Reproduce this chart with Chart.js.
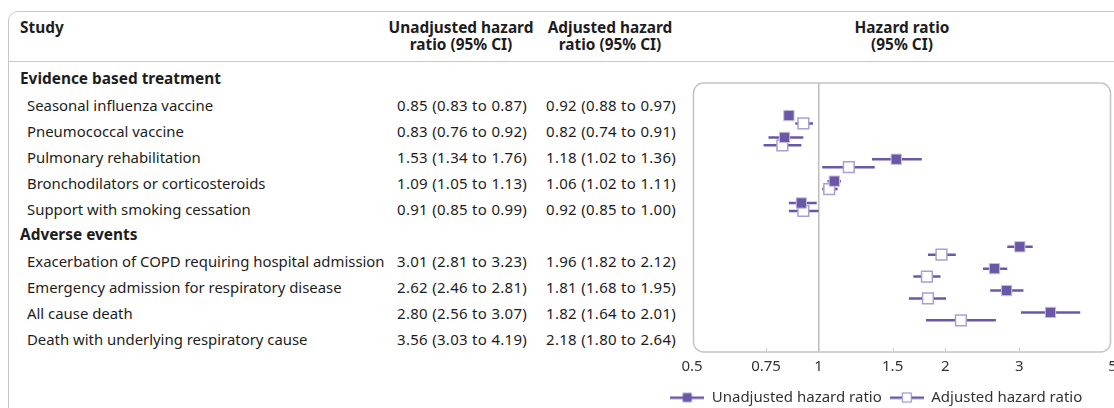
<!DOCTYPE html>
<html>
<head>
<meta charset="utf-8">
<script src="https://cdn.jsdelivr.net/npm/chart.js@4.4.0/dist/chart.umd.min.js"></script>
<style>
  body { margin:0; width:1114px; height:408px; overflow:hidden; background:#fff; font-family:"Noto Sans", sans-serif; color:#1d1d1d; position:relative; }
  .frame { position:absolute; left:8px; top:11px; width:1200px; height:500px; border:1.5px solid #c8c8c8; border-radius:10px 0 0 0; box-sizing:border-box; }
  .sep { position:absolute; left:8px; top:61px; width:1106px; border-top:1.5px solid #c8c8c8; }
  .txt { position:absolute; white-space:nowrap; font-size:14.9px; }
  .head { font-weight:bold; font-size:15.4px; line-height:17px; top:19px; }
  .row { height:26px; line-height:26px; }
  .num { font-size:15px; letter-spacing:0.3px; }
  .bold { font-weight:bold; font-size:15.4px; }
  #wrap { position:absolute; left:640px; top:0; width:474px; height:415px; }
</style>
</head>
<body>
<div class="frame"></div>
<div class="sep"></div>
<div id="table"></div>
<div id="wrap"><canvas id="forest"></canvas></div>
<script>
var groups = ['Evidence based treatment', 'Adverse events'];
var studies = [
  'Seasonal influenza vaccine',
  'Pneumococcal vaccine',
  'Pulmonary rehabilitation',
  'Bronchodilators or corticosteroids',
  'Support with smoking cessation',
  'Exacerbation of COPD requiring hospital admission',
  'Emergency admission for respiratory disease',
  'All cause death',
  'Death with underlying respiratory cause'
];
var studyGroup = [0, 0, 0, 0, 0, 1, 1, 1, 1];

var unadjHr   = [0.85, 0.83, 1.53, 1.09, 0.91, 3.01, 2.62, 2.80, 3.56];
var unadjLow  = [0.83, 0.76, 1.34, 1.05, 0.85, 2.81, 2.46, 2.56, 3.03];
var unadjHigh = [0.87, 0.92, 1.76, 1.13, 0.99, 3.23, 2.81, 3.07, 4.19];

var adjHr   = [0.92, 0.82, 1.18, 1.06, 0.92, 1.96, 1.81, 1.82, 2.18];
var adjLow  = [0.88, 0.74, 1.02, 1.02, 0.85, 1.82, 1.68, 1.64, 1.80];
var adjHigh = [0.97, 0.91, 1.36, 1.11, 1.00, 2.12, 1.95, 2.01, 2.64];

var tickValues = [0.5, 0.75, 1, 1.5, 2, 3, 5];
var tickLabels = ['0.5', '0.75', '1', '1.5', '2', '3', '5'];

var purple = '#6a58a7';
var fontFamily = 'Noto Sans';

// row layout: group heading, then its studies
var rows = [];
var rowPos = [];
var pos = 0;
groups.forEach(function(g, gi){
  rows.push({ text: g, group: true, pos: pos });
  pos++;
  studies.forEach(function(s, i){
    if (studyGroup[i] === gi) {
      rowPos[i] = pos;
      rows.push({ text: s, group: false, pos: pos, idx: i });
      pos++;
    }
  });
});

function fmt(hr, lo, hi){
  return hr.toFixed(2) + ' (' + lo.toFixed(2) + ' to ' + hi.toFixed(2) + ')';
}

var table = document.getElementById('table');
function addText(html, cls, left, top, width, align){
  var d = document.createElement('div');
  d.className = 'txt ' + cls;
  d.innerHTML = html;
  d.style.left = left + 'px';
  if (top !== null) d.style.top = top + 'px';
  if (width) { d.style.width = width + 'px'; d.style.textAlign = align; }
  table.appendChild(d);
}

addText('Study', 'head', 20, 19);
addText('Unadjusted hazard<br>ratio (95% CI)', 'head', 361, 19, 200, 'center');
addText('Adjusted hazard<br>ratio (95% CI)', 'head', 510, 19, 200, 'center');
addText('Hazard ratio<br>(95% CI)', 'head', 802, 19, 200, 'center');

rows.forEach(function(r){
  var top = 65.5 + 26 * r.pos;
  if (r.group) {
    addText(r.text, 'row bold', 20, top);
  } else {
    addText(r.text, 'row', 27, top);
    addText(fmt(unadjHr[r.idx], unadjLow[r.idx], unadjHigh[r.idx]), 'row num', 397, top);
    addText(fmt(adjHr[r.idx], adjLow[r.idx], adjHigh[r.idx]), 'row num', 546, top);
  }
});

// legend symbols: line with square in the middle
function legendSymbol(filled){
  var c = document.createElement('canvas');
  c.width = 34; c.height = 12;
  var g = c.getContext('2d');
  g.fillStyle = purple;
  g.fillRect(0, 5, 34, 2.5);
  if (filled) {
    g.fillRect(12.5, 1.5, 9, 9);
  } else {
    g.fillStyle = '#fff';
    g.fillRect(12.5, 1.5, 9, 9);
    g.strokeStyle = '#9d92cc';
    g.lineWidth = 1.2;
    g.strokeRect(12.5, 1.5, 9, 9);
  }
  return c;
}
var symbols = [legendSymbol(true), legendSymbol(false)];

var upOffset = -0.2, downOffset = 0.16;

var plotBox = {
  id: 'plotBox',
  beforeDatasetsDraw: function(chart){
    var a = chart.chartArea, ctx = chart.ctx, x = chart.scales.x;
    ctx.save();
    ctx.strokeStyle = '#c4c4c4';
    ctx.lineWidth = 1.5;
    ctx.beginPath();
    ctx.roundRect(a.left + 1.5, a.top, a.right - a.left - 3.5, a.bottom - a.top, 10);
    ctx.stroke();
    ctx.strokeStyle = '#cfcfcf';
    ctx.lineWidth = 1;
    tickValues.forEach(function(v){
      if (v === tickValues[0] || v === tickValues[tickValues.length - 1]) return;
      var px = Math.round(x.getPixelForValue(v)) + 0.5;
      ctx.beginPath();
      ctx.moveTo(px, a.bottom - 4);
      ctx.lineTo(px, a.bottom);
      ctx.stroke();
    });
    ctx.restore();
  }
};

new Chart(document.getElementById('forest'), {
  type: 'bar',
  data: {
    datasets: [
      {
        label: 'Unadjusted CI',
        type: 'bar',
        indexAxis: 'y',
        grouped: false,
        maxBarThickness: 2.5,
        backgroundColor: purple,
        borderWidth: 0,
        order: 2,
        data: studies.map(function(s, i){ return { x: [unadjLow[i], unadjHigh[i]], y: rowPos[i] + upOffset }; })
      },
      {
        label: 'Adjusted CI',
        type: 'bar',
        indexAxis: 'y',
        grouped: false,
        maxBarThickness: 2.5,
        backgroundColor: purple,
        borderWidth: 0,
        order: 2,
        data: studies.map(function(s, i){ return { x: [adjLow[i], adjHigh[i]], y: rowPos[i] + downOffset }; })
      },
      {
        label: 'Unadjusted hazard ratio',
        type: 'scatter',
        pointStyle: 'rect',
        pointRadius: 7.3,
        backgroundColor: purple,
        borderColor: '#c8c0e2',
        borderWidth: 1,
        order: 1,
        data: studies.map(function(s, i){ return { x: unadjHr[i], y: rowPos[i] + upOffset }; })
      },
      {
        label: 'Adjusted hazard ratio',
        type: 'scatter',
        pointStyle: 'rect',
        pointRadius: 7.6,
        backgroundColor: '#fff',
        borderColor: '#a99fd2',
        borderWidth: 1.5,
        order: 1,
        data: studies.map(function(s, i){ return { x: adjHr[i], y: rowPos[i] + downOffset }; })
      }
    ]
  },
  options: {
    responsive: true,
    maintainAspectRatio: false,
    animation: false,
    layout: { autoPadding: false, padding: { top: 83, right: 1.5, bottom: 0, left: 0 } },
    scales: {
      x: {
        type: 'logarithmic',
        min: 0.5,
        max: 5,
        offset: false,
        afterBuildTicks: function(s){ s.ticks = tickValues.map(function(v){ return { value: v }; }); },
        afterFit: function(s){ s.paddingLeft = 0; s.paddingRight = 0; },
        ticks: {
          autoSkip: false,
          maxRotation: 0,
          padding: 6,
          color: '#333',
          font: { family: fontFamily, size: 15 },
          callback: function(v, i){ return tickLabels[i]; }
        },
        grid: {
          offset: false,
          drawTicks: false,
          lineWidth: 1.5,
          color: function(c){ return c.tick && c.tick.value === 1 ? '#bdbdbd' : 'rgba(0,0,0,0)'; }
        },
        border: { display: false }
      },
      y: {
        type: 'linear',
        min: 0.192,
        max: 10.731,
        reverse: true,
        ticks: { display: false },
        grid: { display: false },
        border: { display: false },
        afterFit: function(s){ s.width = 52; }
      }
    },
    plugins: {
      tooltip: { enabled: false },
      legend: {
        position: 'bottom',
        labels: {
          usePointStyle: true,
          pointStyleWidth: 34,
          padding: 8,
          color: '#333',
          font: { family: fontFamily, size: 15 },
          generateLabels: function(chart){
            var items = Chart.defaults.plugins.legend.labels.generateLabels(chart);
            return items.filter(function(it){ return it.datasetIndex >= 2; }).map(function(it){
              it.pointStyle = symbols[it.datasetIndex - 2];
              return it;
            });
          }
        }
      }
    }
  },
  plugins: [plotBox]
});
</script>
</body>
</html>
